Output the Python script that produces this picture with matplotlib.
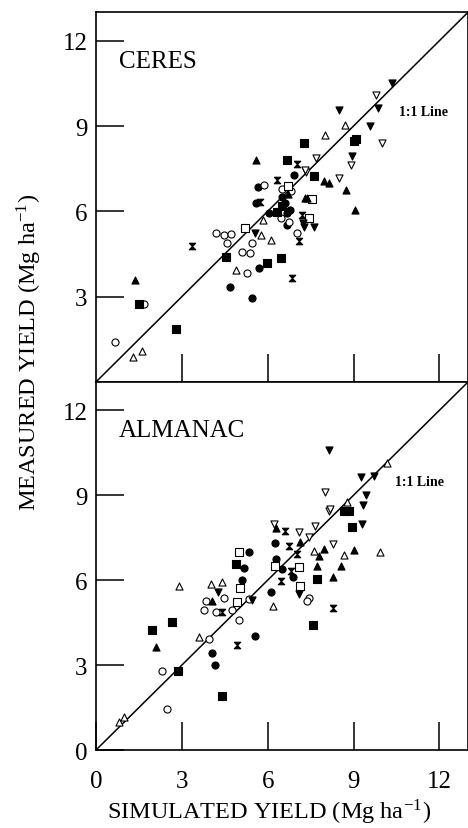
import matplotlib.pyplot as plt
import numpy as np
from matplotlib.path import Path

plt.rcParams['font.family'] = ['Liberation Serif', 'DejaVu Serif']
plt.rcParams['mathtext.fontset'] = 'stix'

# CERES panel (simulated, measured) per symbol
ceres_circle_f = [(4.70, 3.35), (5.44, 2.96), (5.69, 4.0), (5.66, 6.87), (5.61, 6.29), (6.93, 7.28),
                  (6.04, 5.93), (6.68, 5.93), (6.79, 6.05), (6.66, 5.52), (6.5, 6.5), (6.6, 6.3)]
ceres_circle_o = [(0.67, 1.41), (1.68, 2.76), (4.18, 5.23), (4.47, 5.17), (4.73, 5.20), (4.59, 4.88),
                  (5.46, 4.88), (5.11, 4.58), (5.40, 4.55), (5.28, 3.84), (5.87, 6.93), (6.45, 5.76),
                  (6.74, 5.64), (6.5, 6.8), (6.8, 6.7), (7.03, 5.23)]
ceres_square_f = [(1.51, 2.76), (2.79, 1.85), (4.53, 4.41), (6.45, 4.37), (5.96, 4.17), (6.66, 7.81),
                  (7.28, 8.40), (6.33, 5.99), (6.5, 6.2), (9.0, 8.46), (9.09, 8.54), (7.61, 7.25)]
ceres_square_o = [(7.55, 6.43), (7.43, 5.76), (6.7, 6.9), (5.2, 5.4)]
ceres_tri_up_f = [(1.37, 3.58), (5.61, 7.81), (7.38, 6.46), (7.96, 7.08), (8.13, 7.01), (8.75, 6.75),
                  (9.06, 6.05), (7.32, 6.46), (6.7, 6.6)]
ceres_tri_up_o = [(1.28, 0.89), (1.6, 1.1), (4.88, 3.94), (5.84, 5.70), (6.1, 4.99), (5.75, 5.17),
                  (8.01, 8.69), (8.71, 9.04)]
ceres_tri_dn_f = [(10.34, 10.53), (9.87, 9.63), (8.48, 9.57), (9.56, 8.99), (8.94, 7.93), (5.57, 5.23),
                  (7.24, 5.58), (7.26, 5.46), (7.61, 5.44)]
ceres_tri_dn_o = [(9.79, 10.08), (9.99, 8.42), (8.90, 7.63), (7.70, 7.87), (7.35, 7.40), (8.48, 7.17),
                  (7.32, 7.46)]
ceres_hourglass = [(3.37, 4.78), (6.33, 7.11), (7.04, 7.68), (7.20, 5.87), (7.09, 4.94), (6.85, 3.64),
                   (5.72, 6.32)]

# ALMANAC panel
alm_circle_f = [(5.17, 6.42), (5.09, 6.01), (5.34, 6.99), (6.27, 7.31), (6.3, 6.75), (6.5, 6.4),
                (6.87, 6.12), (6.1, 5.59), (5.57, 4.04), (4.07, 3.43), (4.16, 3.0)]
alm_circle_o = [(4.47, 5.36), (3.83, 5.28), (3.77, 4.96), (4.2, 4.87), (4.76, 4.96), (4.99, 4.59),
                (3.95, 3.92), (2.32, 2.80), (2.47, 1.45), (7.43, 5.36), (5.34, 5.34), (7.38, 5.28)]
alm_square_f = [(4.88, 6.57), (2.65, 4.51), (1.95, 4.25), (2.85, 2.80), (4.39, 1.90), (7.72, 6.04),
                (7.58, 4.42), (8.65, 8.46), (8.83, 8.46), (8.94, 7.87)]
alm_square_o = [(5.02, 5.71), (4.94, 5.24), (4.99, 7.01), (6.27, 6.51), (7.12, 5.81), (7.1, 6.48)]
alm_tri_up_f = [(4.06, 5.28), (2.11, 3.63), (7.14, 7.34), (7.98, 7.1), (9.0, 7.06), (7.72, 6.51),
                (7.78, 6.87), (8.56, 6.51), (8.29, 6.13), (6.3, 7.85)]
alm_tri_up_o = [(2.90, 5.81), (4.01, 5.87), (4.41, 5.95), (3.6, 3.98), (0.81, 0.98), (0.99, 1.16),
                (6.19, 5.10), (8.77, 8.75), (10.18, 10.14), (8.65, 6.89), (9.93, 6.99), (7.61, 7.04)]
alm_tri_dn_f = [(4.27, 5.59), (5.46, 5.31), (7.08, 5.51), (8.16, 10.61), (9.26, 9.64), (9.70, 9.67),
                (9.44, 9.01), (9.33, 8.66), (9.29, 7.99)]
alm_tri_dn_o = [(6.21, 7.99), (7.08, 7.71), (7.43, 7.52), (7.67, 7.93), (8.13, 8.46), (8.01, 9.11),
                (8.19, 8.52), (8.30, 7.28)]
alm_hourglass = [(4.39, 4.89), (4.94, 3.71), (6.62, 7.75), (6.74, 7.2), (6.82, 6.34), (6.47, 5.98),
                 (8.30, 5.01), (7.03, 6.93)]

ticks = [3, 6, 9, 12]

hourglass = Path([(-1, 1), (1, 1), (-1, -1), (1, -1), (-1, 1)])

def symbols(cf, co, sf, so, tuf, tuo, tdf, tdo, hg):
    return [(cf, 'o', True), (co, 'o', False), (sf, 's', True), (so, 's', False),
            (tuf, '^', True), (tuo, '^', False), (tdf, 'v', True), (tdo, 'v', False),
            (hg, hourglass, True)]

panels = [
    ('CERES', (10.6, 9.5), symbols(ceres_circle_f, ceres_circle_o, ceres_square_f, ceres_square_o,
                                   ceres_tri_up_f, ceres_tri_up_o, ceres_tri_dn_f, ceres_tri_dn_o,
                                   ceres_hourglass)),
    ('ALMANAC', (10.45, 9.47), symbols(alm_circle_f, alm_circle_o, alm_square_f, alm_square_o,
                                       alm_tri_up_f, alm_tri_up_o, alm_tri_dn_f, alm_tri_dn_o,
                                       alm_hourglass)),
]

fig = plt.figure(figsize=(4.68, 8.29), dpi=100)
ax_top = fig.add_axes([0.205, 0.538, 0.795, 0.446])
ax_bot = fig.add_axes([0.205, 0.094, 0.795, 0.444])

for ax, (name, lab_xy, syms) in zip([ax_top, ax_bot], panels):
    ax.plot([0, 13], [0, 13], color='black', lw=1.1, zorder=1)
    for pts, m, filled in syms:
        pts = np.array(pts)
        ax.scatter(pts[:, 0], pts[:, 1], marker=m, s=26 if m != hourglass else 22,
                   facecolor='black' if filled else 'white', edgecolor='black',
                   linewidths=0.8, zorder=3)
    ax.set_xlim(0, 13)
    ax.set_ylim(0, 13)
    for s in ax.spines.values():
        s.set_linewidth(1.2)
    ax.tick_params(direction='in', length=20, width=1.1, labelsize=18)
    ax.tick_params(axis='y', pad=6)
    ax.tick_params(axis='x', pad=14)
    ax.text(0.8, 11.3, name, fontsize=18, va='center')
    ax.text(lab_xy[0], lab_xy[1], '1:1 Line', fontsize=10, fontweight='bold', va='center')

ax_top.set_xticks(ticks)
ax_top.set_xticklabels([])
ax_top.set_yticks(ticks)
ax_bot.set_xticks([0] + ticks)
ax_bot.set_yticks([0] + ticks)

fig.text(0.062, 0.575, 'MEASURED YIELD (Mg ha$^{\\mathregular{-1}}$)', rotation=90,
         ha='center', va='center', fontsize=17.5)
fig.text(0.574, 0.02, 'SIMULATED YIELD (Mg ha$^{\\mathregular{-1}}$)',
         ha='center', va='center', fontsize=17.5)

fig.savefig('out.png', dpi=100)
